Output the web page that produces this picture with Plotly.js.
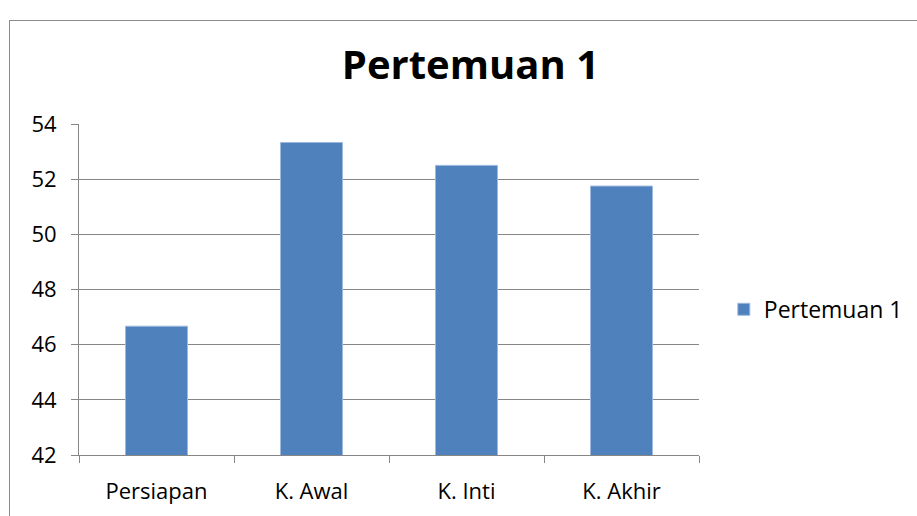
<!DOCTYPE html>
<html>
<head>
<meta charset="utf-8">
<script src="https://cdn.plot.ly/plotly-3.0.1.min.js"></script>
<style>
html,body{margin:0;padding:0;background:#fff;}
#frame{position:absolute;left:9px;top:20px;width:920px;height:510px;border-left:1px solid #8c8c8c;border-top:1px solid #8c8c8c;}
#chart{position:absolute;left:0;top:0;width:917px;height:516px;}
</style>
</head>
<body>
<div id="frame"></div>
<div id="chart"></div>
<script>
var categories = ["Persiapan", "K. Awal", "K. Inti", "K. Akhir"];
var values = [46.67, 53.33, 52.5, 51.75];
var seriesName = "Pertemuan 1";
var chartTitle = "Pertemuan 1";
var yTicks = [42, 44, 46, 48, 50, 52, 54];

var font = "Open Sans, Noto Sans, sans-serif";
var data = [{
  type: "bar",
  x: categories,
  y: values,
  name: seriesName,
  marker: {color: "#4F81BD", line: {color: "#9DB9DE", width: 1}},
  width: 0.4,
  showlegend: true
}];
var layout = {
  width: 917, height: 516,
  margin: {l: 79, r: 218, t: 124, b: 61, pad: 0, autoexpand: false},
  paper_bgcolor: "rgba(0,0,0,0)",
  plot_bgcolor: "rgba(0,0,0,0)",
  title: {text: "<b>" + chartTitle + "</b>", font: {family: font, size: 40, color: "#000"}, x: 0.513, xanchor: "center", y: 0.875, yanchor: "middle"},
  font: {family: font, size: 22, color: "#000"},
  xaxis: {
    type: "category",
    tickson: "boundaries",
    ticks: "outside", ticklen: 7, tickcolor: "#868686", tickwidth: 1,
    showline: true, linecolor: "#868686", linewidth: 1,
    showgrid: false,
    ticklabelstandoff: 17,
    tickfont: {family: font, size: 22, color: "#000"},
    fixedrange: true
  },
  yaxis: {
    range: [42, 54],
    tickvals: yTicks,
    ticks: "outside", ticklen: 7, tickcolor: "#868686", tickwidth: 1,
    showline: true, linecolor: "#868686", linewidth: 1,
    showgrid: true, gridcolor: "#868686", gridwidth: 1,
    zeroline: false,
    ticklabelstandoff: 10,
    tickfont: {family: font, size: 22, color: "#000"},
    fixedrange: true
  },
  legend: {x: 1.04, xanchor: "left", y: 0.44, yanchor: "middle", font: {family: font, size: 23, color: "#000"}, itemwidth: 30},
  showlegend: true,
  bargap: 0.6
};
Plotly.newPlot("chart", data, layout, {displayModeBar: false, staticPlot: true});
</script>
</body>
</html>
